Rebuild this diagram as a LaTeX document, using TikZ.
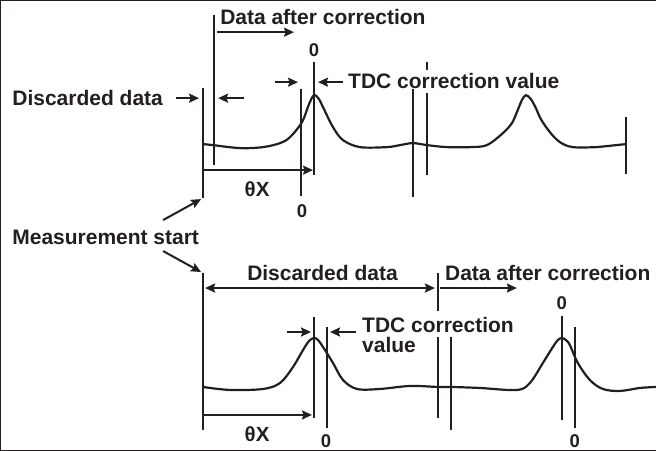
\documentclass[tikz,border=0pt]{standalone}
\usepackage{fontspec}
\setmainfont{Liberation Sans}
\usetikzlibrary{arrows.meta}
\definecolor{ink}{RGB}{35,31,32}
\begin{document}
\begin{tikzpicture}[x=1pt,y=-1pt,
  every path/.style={draw=ink},
  lbl/.style={font=\fontsize{21}{21}\selectfont\bfseries, text=ink, inner sep=0pt, anchor=base west},
  zlbl/.style={font=\fontsize{18.5}{18.5}\selectfont\bfseries, text=ink, inner sep=0pt, anchor=base},
  vline/.style={draw=ink, line width=2pt},
  arr/.style={draw=ink, line width=2pt, -{Stealth[length=10pt,width=9pt,inset=1.5pt]}},
  darr/.style={draw=ink, line width=2pt, {Stealth[length=10pt,width=9pt,inset=1.5pt]}-{Stealth[length=10pt,width=9pt,inset=1.5pt]}},
  wave/.style={draw=ink, line width=2.2pt, line join=round, line cap=round}]
\useasboundingbox (0,0) rectangle (656,450);

% ---------- top section ----------
\node[lbl] (tdac) at (220,24) {Data after correction};
\node[zlbl] (tz1) at (314,56) {0};
\node[lbl] (tdd) at (12,105) {Discarded data};
\node[lbl] (ttdc) at (348,88) {TDC correction value};
\node[zlbl] (tz2) at (302,217) {0};
\node[zlbl, font=\fontsize{20.5}{20.5}\selectfont\bfseries] (ttx) at (257,196) {θX};

\draw[wave] plot[smooth, tension=0.55] coordinates {
 (203,144) (213,145) (240,148) (263,147) (280,143) (290,137) (302,122) (309,104) (314,95)
 (319,99) (323,107) (333,127) (343,140) (360,147) (387,147) (400,145) (413,143) (427,145)
 (447,147) (470,147) (487,145) (503,133) (512,123) (517,112) (522,100) (526,95)
 (531,99) (536,108) (541,119) (550,132) (560,142) (573,147) (597,147) (607,146) (626,144)};

\draw[vline] (203,88) -- (203,198);
\draw[vline] (214,15) -- (214,165);
\draw[vline] (301,89) -- (301,196);
\draw[vline] (314,62) -- (314,175);
\draw[vline] (413,89) -- (413,197);
\draw[vline] (427,62) -- (427,70);
\draw[vline] (427,93) -- (427,175);
\draw[vline] (626,117) -- (626,174);

\coordinate (a1s) at (217,32); \coordinate (a1e) at (294,32);
\draw[arr] (a1s) -- (a1e);
\coordinate (a2s) at (176,98); \coordinate (a2e) at (199,98);
\draw[arr] (a2s) -- (a2e);
\coordinate (a3s) at (244,98); \coordinate (a3e) at (218,98);
\draw[arr] (a3s) -- (a3e);
\coordinate (a4s) at (275,82); \coordinate (a4e) at (298,82);
\draw[arr] (a4s) -- (a4e);
\coordinate (a5s) at (343,82); \coordinate (a5e) at (318,82);
\draw[arr] (a5s) -- (a5e);
\coordinate (a6s) at (203,170); \coordinate (a6e) at (313,170);
\draw[arr] (a6s) -- (a6e);

% ---------- measurement start ----------
\node[lbl] (ms) at (12,244) {Measurement start};
\coordinate (m1s) at (163,220); \coordinate (m1e) at (201,199);
\draw[arr] (m1s) -- (m1e);
\coordinate (m2s) at (163,251); \coordinate (m2e) at (201,272);
\draw[arr] (m2s) -- (m2e);

% ---------- bottom section ----------
\node[lbl] (bdd) at (247,280) {Discarded data};
\node[lbl] (bdac) at (445,280) {Data after correction};
\node[lbl] (btdc) at (362,332) {TDC correction};
\node[lbl] (bval) at (362,353) {value};
\node[zlbl] (bz1) at (326,447.5) {0};
\node[zlbl] (bz2) at (562,309) {0};
\node[zlbl] (bz3) at (575,447.5) {0};
\node[zlbl, font=\fontsize{20.5}{20.5}\selectfont\bfseries] (btx) at (257,442) {θX};

\draw[wave] plot[smooth, tension=0.55] coordinates {
 (203,387) (230,390) (263,389) (280,383) (293,367) (303,350) (309,341) (314,338)
 (318,340) (323,347) (333,363) (343,380) (357,389) (380,389) (410,386) (438,387) (451,387)
 (480,388) (517,390) (530,383) (543,363) (553,347) (558,340) (562,338) (566,340)
 (570,345) (578,363) (590,380) (603,389) (620,391) (640,388) (656,387)};

\draw[vline] (203,273) -- (203,430);
\draw[vline] (314,317) -- (314,418);
\draw[vline] (327,327) -- (327,428);
\draw[vline] (438,273) -- (438,311);
\draw[vline] (438,337) -- (438,418);
\draw[vline] (451,337) -- (451,430);
\draw[vline] (562,316) -- (562,420);
\draw[vline] (575,327) -- (575,428);

\coordinate (b1s) at (205,288); \coordinate (b1e) at (435,288);
\draw[darr] (b1s) -- (b1e);
\coordinate (b2s) at (440,288); \coordinate (b2e) at (517,288);
\draw[arr] (b2s) -- (b2e);
\coordinate (b3s) at (287,332); \coordinate (b3e) at (311,332);
\draw[arr] (b3s) -- (b3e);
\coordinate (b4s) at (356,332); \coordinate (b4e) at (330,332);
\draw[arr] (b4s) -- (b4e);
\coordinate (b5s) at (203,415); \coordinate (b5e) at (312,415);
\draw[arr] (b5s) -- (b5e);
\end{tikzpicture}
\end{document}
